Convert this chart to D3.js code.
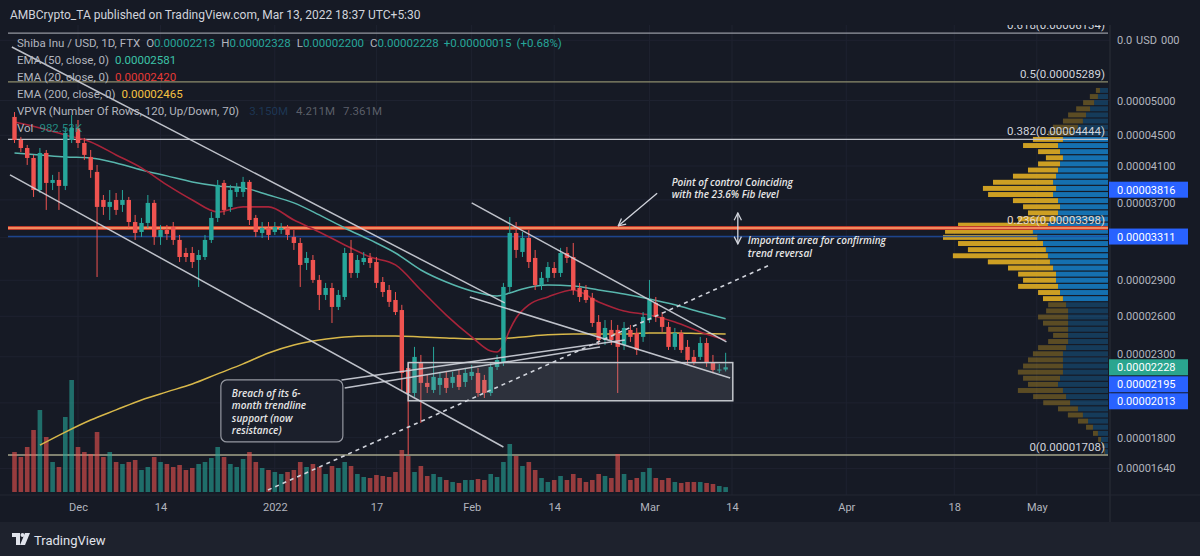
<!DOCTYPE html>
<html>
<head>
<meta charset="utf-8">
<script src="https://cdn.jsdelivr.net/npm/d3@7/dist/d3.min.js"></script>
<style>
html,body{margin:0;padding:0;background:#161a25;overflow:hidden}
svg{display:block}
text{font-family:Roboto,"Noto Sans","DejaVu Sans",sans-serif}
.ann{font-family:"Open Sans","Noto Sans",sans-serif;font-style:italic;font-weight:600}
</style>
</head>
<body>
<svg id="chart" width="1200" height="556"></svg>
<script>
// ---------------- DATA (prices in units of 1e-8 USD) ----------------
const PRICE_UNIT = 1e-8;
const firstDay = "2021-11-21";
// [open, high, low, close] per day from 2021-11-21 to 2022-03-13
const ohlc = [
// Nov 21-30
[4757,4828,4396,4436],[4436,4478,4278,4330],[4330,4370,4113,4201],[4201,4240,3733,3812],[3812,4330,3778,4265],
[4265,4304,3589,3895],[3895,3991,3812,3930],[3930,4027,3589,3860],[3860,4601,3812,4532],[4436,4785,4396,4601],
// Dec
[4601,4713,4330,4396],[4396,4464,4176,4240],[4214,4304,3955,4051],[4027,4113,2929,3622],[3699,3755,3535,3622],
[3622,3812,3481,3677],[3699,3778,3535,3589],[3644,3812,3567,3699],[3699,3733,3398,3460],[3460,3535,3277,3347],
[3357,3503,3307,3450],[3450,3755,3398,3666],[3666,3699,3228,3307],[3307,3429,3228,3377],[3377,3429,3277,3337],
[3408,3460,3228,3277],[3277,3327,3065,3112],[3150,3199,3065,3112],[3150,3208,3010,3065],[3084,3179,2842,3131],
[3112,3327,3084,3277],[3277,3567,3247,3503],[3503,3930,3460,3872],[3895,3930,3535,3589],[3622,3872,3567,3812],
[3790,3895,3733,3837],[3790,3967,3733,3907],[3907,3930,3429,3481],[3503,3535,3307,3357],[3347,3460,3297,3398],
[3398,3460,3277,3327],
// Jan
[3357,3460,3327,3408],[3377,3450,3337,3398],[3398,3429,3277,3327],[3307,3377,3179,3247],[3247,3297,2842,3038],
[3056,3160,2992,3103],[3084,3131,2877,2903],[2903,2947,2650,2774],[2774,2877,2732,2833],[2833,2877,2548,2675],
[2675,2816,2650,2774],[2757,3199,2732,3150],[3150,3277,2921,2965],[2965,3131,2921,3084],[3065,3160,3038,3103],
[3103,3150,3010,3056],[3065,3112,2833,2877],[2885,2929,2757,2799],[2816,2859,2675,2716],[2732,2799,2610,2634],
[2650,2692,2080,2190],[2223,2257,1708,2061],[2061,2370,2037,2299],[2257,2313,1882,2125],[2125,2177,2061,2099],
[2080,2370,2061,2164],[2112,2197,2049,2157],[2157,2197,2061,2093],[2125,2197,2093,2164],[2177,2210,2080,2099],
[2131,2223,2099,2190],
// Feb
[2170,2244,2144,2197],[2190,2223,2037,2061],[2144,2177,2030,2061],[2061,2257,2043,2230],[2230,2313,2210,2278],
[2257,2877,2237,2842],[2842,3513,2799,3347],[3347,3460,3103,3179],[3160,3357,3112,3297],[3297,3377,3010,3065],
[3103,3179,2816,2859],[2859,2974,2816,2921],[2921,3065,2885,3019],[3010,3065,2921,2965],[2965,3199,2929,3150],
[3150,3208,3056,3103],[3112,3247,2774,2816],[2833,2877,2716,2757],[2816,2859,2708,2732],[2749,2791,2518,2548],
[2556,2610,2384,2420],[2420,2571,2384,2510],[2495,2571,2384,2420],[2495,2533,2061,2370],[2384,2556,2348,2510],
[2495,2533,2406,2443],[2472,2510,2313,2348],[2443,2634,2406,2595],
// Mar 1-13
[2571,2903,2548,2732],[2708,2757,2556,2595],[2595,2634,2480,2518],[2518,2556,2348,2370],[2370,2510,2348,2472],
[2472,2495,2327,2348],[2370,2420,2244,2278],[2299,2348,2244,2264],[2299,2443,2278,2398],[2398,2435,2230,2257],
[2264,2313,2190,2210],[2210,2250,2190,2213],[2213,2328,2200,2228]
];
// daily volume (K)
const volumes = [
8000,7000,9000,12400,16400,11000,6000,5000,15000,22400,
9000,8000,7600,12000,7000,8000,6000,5600,6000,6400,4400,5000,7000,6000,5600,5000,5400,4400,4800,5600,6000,6800,9000,7000,5600,5000,6600,8000,6000,4800,4400,
4000,3600,4000,4400,6000,5000,5600,5000,3600,5200,4800,6000,5200,3600,3000,2800,3400,3200,3000,4000,8400,7200,4000,5200,3200,3600,3000,2400,2000,1800,2400,
2400,2600,2400,3600,3000,6000,9600,7200,5200,6000,4400,2800,2000,2400,3200,2400,3600,2800,2000,2400,3600,3200,2800,7600,3600,2400,2800,4000,
4800,2800,2400,2800,2000,1800,2000,2000,2000,1800,1600,1200,982.53
];
// EMA readings [date, value]
const ema50 = [["2021-11-21",4265],["2021-11-25",4240],["2021-11-29",4214],["2021-12-03",4201],["2021-12-07",4138],["2021-12-11",4051],["2021-12-15",3979],["2021-12-19",3907],["2021-12-23",3860],["2021-12-27",3837],["2021-12-31",3755],["2022-01-04",3666],["2022-01-08",3535],["2022-01-12",3398],["2022-01-16",3277],["2022-01-20",3150],["2022-01-24",2992],["2022-01-28",2885],["2022-02-01",2808],["2022-02-05",2766],["2022-02-07",2790],["2022-02-09",2825],["2022-02-13",2859],["2022-02-17",2850],["2022-02-21",2816],["2022-02-25",2782],["2022-03-01",2740],["2022-03-05",2692],["2022-03-09",2634],["2022-03-13",2581]];
const ema20 = [["2021-11-21",4684],["2021-11-25",4601],["2021-11-29",4505],["2021-12-03",4410],["2021-12-07",4240],["2021-12-11",4076],["2021-12-15",3872],["2021-12-19",3699],["2021-12-23",3567],["2021-12-27",3622],["2021-12-31",3622],["2022-01-04",3481],["2022-01-08",3357],["2022-01-12",3228],["2022-01-16",3112],["2022-01-20",3038],["2022-01-24",2816],["2022-01-28",2610],["2022-02-01",2443],["2022-02-04",2341],["2022-02-05",2334],["2022-02-06",2384],["2022-02-07",2495],["2022-02-08",2587],["2022-02-10",2692],["2022-02-13",2757],["2022-02-17",2816],["2022-02-21",2716],["2022-02-25",2642],["2022-03-01",2610],["2022-03-05",2556],["2022-03-09",2480],["2022-03-13",2420]];
const ema200 = [["2021-11-25",1760],["2021-11-29",1831],["2021-12-03",1899],["2021-12-07",1958],["2021-12-11",2018],["2021-12-15",2068],["2021-12-19",2118],["2021-12-23",2184],["2021-12-27",2251],["2021-12-31",2327],["2022-01-04",2384],["2022-01-08",2420],["2022-01-12",2443],["2022-01-16",2450],["2022-01-20",2450],["2022-01-24",2443],["2022-01-28",2435],["2022-02-01",2428],["2022-02-05",2428],["2022-02-09",2443],["2022-02-13",2458],["2022-02-17",2465],["2022-02-21",2465],["2022-02-25",2465],["2022-03-01",2472],["2022-03-05",2472],["2022-03-09",2468],["2022-03-13",2465]];
// Fibonacci retracement
const fibRatios = [0.618, 0.5, 0.382, 0.236, 0];
const fibValues = [6134, 5289, 4444, 3398, 1708];
// axis ticks (visible ones)
const priceTicks = [5000,4500,4100,3700,2900,2600,2300,1800,1640];
const topTickParts = ["0.0", "USD", "000"];
const topTickValue = 6000;
const timeTickDates = ["2021-12-01","2021-12-14","2022-01-01","2022-01-17","2022-02-01","2022-02-14","2022-03-01","2022-03-14","2022-04-01","2022-04-18","2022-05-01"];
const timeTickLabels = ["Dec","14","2022","17","Feb","14","Mar","14","Apr","18","May"];
// Volume profile (M), rows from top to bottom
const vpUp = [0.36,0.45,0.62,0.80,0.98,1.12,1.34,1.56,2.01,2.23,2.14,2.01,2.14,2.23,2.32,2.45,2.32,2.45,2.23,2.14,2.23,2.32,2.68,3.35,3.150,2.90,2.77,2.68,2.59,2.45,2.32,2.32,2.23,2.14,2.01,1.87,1.78,1.78,1.78,1.78,1.78,1.78,1.87,2.01,2.01,2.01,2.01,2.14,2.23,2.01,1.87,1.69,1.34,1.12,0.89,0.67,0.45,0.31,0.18,0.13];
const vpDown = [0.18,0.36,0.49,0.62,0.80,0.89,1.12,1.12,1.34,1.56,0.98,0.76,0.98,1.34,1.92,2.68,3.26,2.90,2.01,1.65,1.34,1.69,4.01,3.92,4.211,3.79,3.48,4.24,2.77,2.01,1.69,1.47,1.78,0.98,0.89,0.80,0.98,1.34,1.12,0.89,0.67,0.89,1.25,1.34,1.56,1.78,2.01,1.65,1.34,2.01,1.47,1.20,0.89,0.67,0.45,0.31,0.22,0.13,0.09,0.04];
const vpRange = [1708, 5200];
const valueArea = [2740, 4480];
// price markers on the right scale
const markerValues = [3816, 3311, 2228, 2195, 2013];
const markerKinds = ["level","poc","last","level","level"];
// drawn trendlines [[date, price],[date, price]]
const solidLines = [
  [["2021-11-20 14:00",5880],["2022-02-06 05:00",2708]],
  [["2021-11-20 07:00",3991],["2022-02-06 00:00",1750]],
  [["2022-01-31 17:00",2757],["2022-03-13 17:00",2157]],
  [["2022-02-01 00:00",3666],["2022-03-13 03:00",2406]],
  [["2022-01-11 12:00",2144],["2022-02-25 03:00",2420]],
  [["2022-01-12 00:00",2093],["2022-02-21 05:00",2370]]
];
const dashedLine = [["2021-12-30 22:00",1536],["2022-03-20 00:00",3039]];
const zoneBox = [["2022-01-22 00:00",2260],["2022-03-14 03:00",2013]];

// ---------------- SCALES ----------------
const svg = d3.select("#chart");
const pDay = d3.timeParse("%Y-%m-%d");
const pTime = d3.timeParse("%Y-%m-%d %H:%M");
const toDate = s => s.length > 10 ? pTime(s) : pDay(s);
const x = d3.scaleTime().domain([pDay("2021-12-01"), pDay("2022-03-14")]).range([78, 732]);
const y = d3.scaleLog().domain([1708 * PRICE_UNIT, 5000 * PRICE_UNIT]).range([455, 100.5]);
const P = v => y(v * PRICE_UNIT);
const X = s => x(toDate(s));
const yv = d3.scaleLinear().domain([0, 23000]).range([492, 377]);
const start = pDay(firstDay);
const days = d3.timeDay.range(start, d3.timeDay.offset(start, ohlc.length));

const UP = "#26a69a", DN = "#ef5350", TXT = "#b2b5be";
const fmtP = v => (v * PRICE_UNIT).toFixed(8);

// ---------------- BACKGROUND ----------------
svg.append("rect").attr("width", 1200).attr("height", 556).attr("fill", "#161a25");
svg.append("rect").attr("y", 522).attr("width", 1200).attr("height", 34).attr("fill", "#1e222d");
const defs = svg.append("defs");
defs.append("clipPath").attr("id", "clipPlot").append("rect").attr("x", 0).attr("y", 25).attr("width", 1110).attr("height", 470);
const m = defs.append("marker").attr("id", "arr").attr("viewBox", "0 0 10 10").attr("refX", 9).attr("refY", 5)
  .attr("markerWidth", 7).attr("markerHeight", 7).attr("orient", "auto-start-reverse");
m.append("path").attr("d", "M1,1 L9,5 L1,9").attr("fill", "none").attr("stroke", "#d1d4dc").attr("stroke-width", 1.4);

const plot = svg.append("g").attr("clip-path", "url(#clipPlot)");

// grid
plot.append("g").selectAll("line").data(priceTicks.concat([topTickValue, 3300, 2000])).join("line")
  .attr("x1", 0).attr("x2", 1110).attr("y1", d => P(d)).attr("y2", d => P(d))
  .attr("stroke", "#1e2230").attr("stroke-width", 1);
plot.append("g").selectAll("line").data(timeTickDates).join("line")
  .attr("x1", d => X(d)).attr("x2", d => X(d)).attr("y1", 25).attr("y2", 495)
  .attr("stroke", "#1e2230").attr("stroke-width", 1);

// ---------------- VOLUME PROFILE ----------------
const nRows = vpUp.length;
const lr = Math.log(vpRange[1] / vpRange[0]) / nRows;
const rows = vpUp.map((u, i) => {
  const hi = vpRange[1] * Math.exp(-lr * i), lo = vpRange[1] * Math.exp(-lr * (i + 1));
  const mid = Math.sqrt(hi * lo);
  return { u, d: vpDown[i], hi, lo, va: mid >= valueArea[0] && mid <= valueArea[1] };
});
const vpW = d3.scaleLinear().domain([0, d3.max(rows, r => r.u + r.d)]).range([0, 165]);
const vpRight = 1108;
const vp = plot.append("g");
vp.selectAll("rect.u").data(rows).join("rect").attr("class", "u")
  .attr("x", r => vpRight - vpW(r.u)).attr("width", r => vpW(r.u))
  .attr("y", r => P(r.hi) + 0.4).attr("height", r => Math.max(0.6, P(r.lo) - P(r.hi) - 1.2))
  .attr("fill", "#1592e6").attr("fill-opacity", r => r.va ? 0.72 : 0.28);
vp.selectAll("rect.d").data(rows).join("rect").attr("class", "d")
  .attr("x", r => vpRight - vpW(r.u + r.d)).attr("width", r => vpW(r.d))
  .attr("y", r => P(r.hi) + 0.4).attr("height", r => Math.max(0.6, P(r.lo) - P(r.hi) - 1.2))
  .attr("fill", "#fbc123").attr("fill-opacity", r => r.va ? 0.8 : 0.3);

// POC line
plot.append("line").attr("x1", 8).attr("x2", 1108).attr("y1", P(markerValues[1])).attr("y2", P(markerValues[1]))
  .attr("stroke", "#1f4fa8").attr("stroke-width", 1.5).attr("opacity", 0.8);

// ---------------- FIB ----------------
const fibColors = ["#9598a1", "#8d8c6c", "#bfc2c9", "#f4845f", "#a5a58a"];
const fg = plot.append("g");
fibValues.forEach((v, i) => {
  const yy = P(v);
  if (fibRatios[i] === 0.236) {
    fg.append("line").attr("x1", 8).attr("x2", 1108).attr("y1", yy).attr("y2", yy).attr("stroke", "#c0392b").attr("stroke-width", 4);
    fg.append("line").attr("x1", 8).attr("x2", 1108).attr("y1", yy).attr("y2", yy).attr("stroke", "#f08a5d").attr("stroke-width", 2);
  } else {
    fg.append("line").attr("x1", 8).attr("x2", 1108).attr("y1", yy).attr("y2", yy).attr("stroke", fibColors[i]).attr("stroke-width", 1.3);
  }
  fg.append("text").attr("x", 1105).attr("y", yy - 4).attr("text-anchor", "end")
    .attr("font-size", 11.5).attr("fill", i === 3 ? "#e8d9c8" : "#d1d4dc")
    .text(fibRatios[i] + "(" + fmtP(v) + ")");
});

// ---------------- VOLUME ----------------
plot.append("g").selectAll("rect").data(days).join("rect")
  .attr("x", d => x(d) - 2.3).attr("width", 4.6)
  .attr("y", (d, i) => yv(volumes[i])).attr("height", (d, i) => 492 - yv(volumes[i]))
  .attr("fill", (d, i) => ohlc[i][3] >= ohlc[i][0] ? UP : DN).attr("opacity", 0.6);

// ---------------- EMAs ----------------
const line = d3.line().x(d => X(d[0])).y(d => P(d[1])).curve(d3.curveMonotoneX);
plot.append("path").attr("d", line(ema200)).attr("fill", "none").attr("stroke", "#d8b84a").attr("stroke-width", 1.5);
plot.append("path").attr("d", line(ema50)).attr("fill", "none").attr("stroke", "#58b6ad").attr("stroke-width", 1.5);
plot.append("path").attr("d", line(ema20)).attr("fill", "none").attr("stroke", "#a8243a").attr("stroke-width", 1.6);

// ---------------- CANDLES ----------------
const cg = plot.append("g");
cg.selectAll("line").data(days).join("line")
  .attr("x1", d => x(d)).attr("x2", d => x(d))
  .attr("y1", (d, i) => P(ohlc[i][1])).attr("y2", (d, i) => P(ohlc[i][2]))
  .attr("stroke", (d, i) => ohlc[i][3] >= ohlc[i][0] ? UP : DN).attr("stroke-width", 1);
cg.selectAll("rect").data(days).join("rect")
  .attr("x", d => x(d) - 2.2).attr("width", 4.4)
  .attr("y", (d, i) => P(Math.max(ohlc[i][0], ohlc[i][3])))
  .attr("height", (d, i) => Math.max(1, Math.abs(P(ohlc[i][0]) - P(ohlc[i][3]))))
  .attr("fill", (d, i) => ohlc[i][3] >= ohlc[i][0] ? UP : DN);

// ---------------- DRAWINGS ----------------
const dg = plot.append("g");
dg.append("rect")
  .attr("x", X(zoneBox[0][0])).attr("y", P(zoneBox[0][1]))
  .attr("width", X(zoneBox[1][0]) - X(zoneBox[0][0])).attr("height", P(zoneBox[1][1]) - P(zoneBox[0][1]))
  .attr("fill", "#8c8f9a").attr("fill-opacity", 0.2).attr("stroke", "#c3c6cc").attr("stroke-width", 1.5);
solidLines.forEach(l => dg.append("line")
  .attr("x1", X(l[0][0])).attr("y1", P(l[0][1])).attr("x2", X(l[1][0])).attr("y2", P(l[1][1]))
  .attr("stroke", "#d1d4dc").attr("stroke-width", 1.5).attr("opacity", 0.9));
dg.append("line")
  .attr("x1", X(dashedLine[0][0])).attr("y1", P(dashedLine[0][1])).attr("x2", X(dashedLine[1][0])).attr("y2", P(dashedLine[1][1]))
  .attr("stroke", "#d1d4dc").attr("stroke-width", 1.6).attr("stroke-dasharray", "4,4");

const ANN_FS = 10, ANN_LH = 12.5;
// callout box
const cbx = X("2021-12-23 12:00"), cby = P(2144);
dg.append("rect").attr("x", cbx).attr("y", cby).attr("width", 122).attr("height", 62).attr("rx", 6)
  .attr("fill", "#1b1f2b").attr("stroke", "#9598a1").attr("stroke-width", 1.2);
["Breach of its 6-", "month trendline", "support (now", "resistance)"].forEach((t, i) =>
  dg.append("text").attr("class", "ann").attr("x", cbx + 11).attr("y", cby + 17 + i * ANN_LH)
    .attr("font-size", ANN_FS).attr("fill", "#e6e6e6").text(t));

// POC note
const pnx = X("2022-03-04 12:00"), pny = P(3860);
["Point of control Coinciding", "with the 23.6% Fib level"].forEach((t, i) =>
  dg.append("text").attr("class", "ann").attr("x", pnx).attr("y", pny + i * ANN_LH)
    .attr("font-size", ANN_FS).attr("fill", "#e6e6e6").text(t));
dg.append("line").attr("x1", X("2022-03-02 05:00")).attr("y1", P(3774)).attr("x2", X("2022-02-24 02:00")).attr("y2", P(3419))
  .attr("stroke", "#d1d4dc").attr("stroke-width", 1.3).attr("marker-end", "url(#arr)");
dg.append("line").attr("x1", X("2022-03-14 22:00")).attr("y1", P(3556)).attr("x2", X("2022-03-14 22:00")).attr("y2", P(3238))
  .attr("stroke", "#d1d4dc").attr("stroke-width", 1.3).attr("marker-start", "url(#arr)").attr("marker-end", "url(#arr)");
const inx = X("2022-03-16 12:00"), iny = P(3235);
["Important area for confirming", "trend reversal"].forEach((t, i) =>
  dg.append("text").attr("class", "ann").attr("x", inx).attr("y", iny + i * ANN_LH)
    .attr("font-size", ANN_FS).attr("fill", "#e6e6e6").text(t));

// ---------------- AXES ----------------
svg.append("line").attr("x1", 1110).attr("x2", 1110).attr("y1", 25).attr("y2", 522).attr("stroke", "#2a2e39");
svg.append("line").attr("x1", 0).attr("x2", 1200).attr("y1", 495).attr("y2", 495).attr("stroke", "#232733");

// markers (with simple collision avoidance)
let lastY = -100;
const mk = markerValues.map((v, i) => ({ v, k: markerKinds[i], y0: P(v) })).sort((a, b) => a.y0 - b.y0);
mk.forEach(d => { d.yy = Math.max(d.y0, lastY + 17); lastY = d.yy; });

// tick labels: shift those partially covered by a marker box
const ax = svg.append("g").attr("transform", "translate(1110,0)")
  .call(d3.axisRight(y).tickValues(priceTicks.map(v => v * PRICE_UNIT)).tickSize(0).tickPadding(7).tickFormat(v => v.toFixed(8)));
ax.select(".domain").remove();
ax.selectAll("text").attr("fill", TXT).attr("font-size", 11).attr("font-family", "Roboto, sans-serif");
ax.selectAll(".tick").each(function (v) {
  const ty = y(v);
  mk.forEach(b => {
    const dy = ty - b.yy;
    if (Math.abs(dy) < 13) d3.select(this).select("text").attr("dy", (dy > 0 ? 13 - dy : -(13 + dy)) + 3.5);
  });
});
// top label partly covered by the currency badge
const tty = P(topTickValue);
svg.append("text").attr("x", 1117).attr("y", tty + 4).attr("font-size", 11).attr("fill", TXT).text(topTickParts[0]);
svg.append("text").attr("x", 1136).attr("y", tty + 4).attr("font-size", 11).attr("fill", TXT).text(topTickParts[1]);
svg.append("text").attr("x", 1161).attr("y", tty + 4).attr("font-size", 11).attr("fill", TXT).text(topTickParts[2]);

const mg = svg.append("g");
mk.forEach(d => {
  mg.append("rect").attr("x", 1109).attr("y", d.yy - 8).attr("width", 79).attr("height", 16)
    .attr("fill", d.k === "last" ? "#2aa58f" : "#2962ff");
  mg.append("text").attr("x", 1117).attr("y", d.yy + 4).attr("font-size", 11).attr("fill", "#ffffff").text(fmtP(d.v));
});

const bx = svg.append("g").attr("transform", "translate(0,500)")
  .call(d3.axisBottom(x).tickValues(timeTickDates.map(pDay)).tickSize(0).tickPadding(3).tickFormat((d, i) => timeTickLabels[i]));
bx.select(".domain").remove();
bx.selectAll("text").attr("fill", TXT).attr("font-size", 11).attr("font-family", "Roboto, sans-serif");

// ---------------- HEADER & LEGEND ----------------
svg.append("rect").attr("width", 1200).attr("height", 25).attr("fill", "#161a25");
svg.append("text").attr("x", 10).attr("y", 19).attr("font-size", 12).attr("fill", "#d1d4dc")
  .text("AMBCrypto_TA published on TradingView.com, Mar 13, 2022 18:37 UTC+5:30");

const last = ohlc[ohlc.length - 1];
const lg = svg.append("g").attr("font-size", 11.5);
function legend(yb, parts) {
  const t = lg.append("text").attr("x", 17).attr("y", yb);
  parts.forEach(p => t.append("tspan").attr("dx", p[2] || 0).attr("fill", p[1]).attr("fill-opacity", p[3] || 1).text(p[0]));
}
const ch = last[3] - last[0];
legend(47, [["Shiba Inu / USD, 1D, FTX", TXT], ["O", TXT, 6], [fmtP(last[0]), UP], ["H", TXT, 6], [fmtP(last[1]), UP],
  ["L", TXT, 6], [fmtP(last[2]), UP], ["C", TXT, 6], [fmtP(last[3]), UP],
  ["+" + fmtP(ch), UP, 5], ["(+" + (ch / last[0] * 100).toFixed(2) + "%)", UP, 5]]);
legend(64, [["EMA (50, close, 0)", TXT], [fmtP(ema50[ema50.length - 1][1]), "#3cc3a7", 6]]);
legend(81, [["EMA (20, close, 0)", TXT], [fmtP(ema20[ema20.length - 1][1]), "#e53935", 6]]);
legend(98, [["EMA (200, close, 0)", TXT], [fmtP(ema200[ema200.length - 1][1]), "#f5c242", 6]]);
const pocIdx = d3.maxIndex(rows, r => r.u + r.d);
legend(115, [["VPVR (Number Of Rows, 120, Up/Down, 70)", TXT], [rows[pocIdx].u.toFixed(3) + "M", "#2a6fb0", 10, 0.35],
  [rows[pocIdx].d.toFixed(3) + "M", TXT, 8, 0.45], [(rows[pocIdx].u + rows[pocIdx].d).toFixed(3) + "M", TXT, 8, 0.45]]);
legend(132, [["Vol", TXT], [volumes[volumes.length - 1].toFixed(2) + "K", UP, 6, 0.8]]);

// ---------------- FOOTER ----------------
const logo = svg.append("g").attr("transform", "translate(12,533)").attr("fill", "#e0e3eb");
logo.append("path").attr("d", "M0,0 H8 V12 H4 V4 H0 Z");
logo.append("circle").attr("cx", 10.5).attr("cy", 2).attr("r", 2);
logo.append("path").attr("d", "M13,0 H18 L13,12 H8 Z");
svg.append("text").attr("x", 34).attr("y", 545).attr("font-size", 13).attr("fill", "#e0e3eb")
  .attr("font-family", "Roboto, sans-serif").text("TradingView");
</script>
</body>
</html>
